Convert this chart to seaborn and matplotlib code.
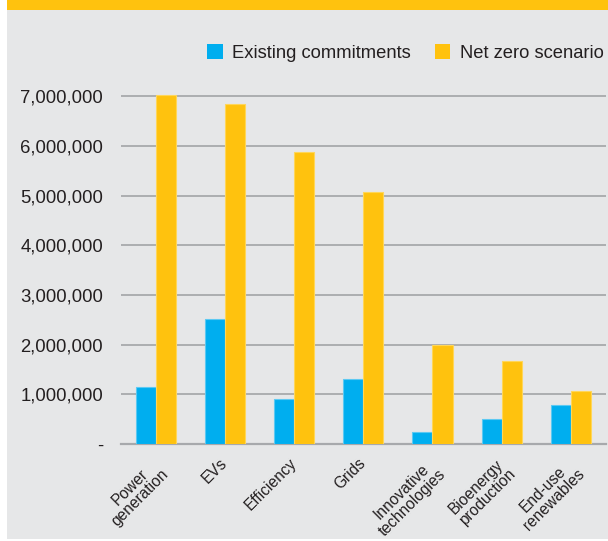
import matplotlib
matplotlib.use("Agg")
import matplotlib.pyplot as plt
from matplotlib.patches import Rectangle, Patch
from matplotlib.ticker import FuncFormatter
from matplotlib.transforms import ScaledTranslation
import pandas as pd
import seaborn as sns

# Investment by technology, two scenarios
categories = ["Power\ngeneration", "EVs", "Efficiency", "Grids",
              "Innovative\ntechnologies", "Bioenergy\nproduction", "End-use\nrenewables"]
existing_commitments = [1140000, 2520000, 900000, 1300000, 250000, 500000, 780000]
net_zero_scenario = [7020000, 6850000, 5880000, 5080000, 1990000, 1670000, 1070000]
series_names = ["Existing commitments", "Net zero scenario"]
y_ticks = [0, 1000000, 2000000, 3000000, 4000000, 5000000, 6000000, 7000000]

BLUE = "#00AEEF"
YELLOW = "#FFC20E"
PANEL = "#E6E7E8"
GRID = "#A7A9AC"
TEXT = "#231F20"

df = pd.DataFrame({
    "category": categories * 2,
    "value": existing_commitments + net_zero_scenario,
    "scenario": [series_names[0]] * len(categories) + [series_names[1]] * len(categories),
})

sns.set_theme(style="white")
plt.rcParams["font.family"] = ["Liberation Sans", "DejaVu Sans"]

W, H = 608, 541
fig = plt.figure(figsize=(W / 100, H / 100), dpi=100, facecolor="white")

# Background panel and the yellow header strip
fig.add_artist(Rectangle((7 / W, 1 - 539 / H), (W - 7) / W, (539 - 10) / H,
                         transform=fig.transFigure, facecolor=PANEL,
                         edgecolor="none", zorder=-2))
fig.add_artist(Rectangle((7 / W, 1 - 10 / H), (W - 7) / W, 10 / H,
                         transform=fig.transFigure, facecolor=YELLOW,
                         edgecolor="none", zorder=-2))

px_per_unit = 49.65 / 1e6
ymax = 7.1e6
bottom_px = 444
top_px = bottom_px - ymax * px_per_unit
ax = fig.add_axes([121 / W, 1 - bottom_px / H, (605.5 - 121) / W, (bottom_px - top_px) / H])
ax.set_facecolor("none")
ax.set_zorder(2)

sns.barplot(data=df, x="category", y="value", hue="scenario",
            palette=[BLUE, YELLOW], width=0.58, ax=ax, legend=False,
            saturation=1, zorder=3)

# thin lighter outline on each bar
for patch in ax.patches:
    fc = patch.get_facecolor()
    edge = "#5CC9F2" if fc[2] > 0.8 else "#FFD659"
    patch.set_edgecolor(edge)
    patch.set_linewidth(0.8)

ax.set_xlim(-0.5, len(categories) - 0.5)
ax.set_ylim(0, ymax)
ax.set_yticks(y_ticks)
ax.yaxis.set_major_formatter(FuncFormatter(lambda v, _: "-" if v == 0 else f"{v:,.0f}"))
ax.grid(axis="y", color=GRID, linewidth=1.3, zorder=0)
ax.grid(axis="x", visible=False)
ax.set_axisbelow(True)
for side in ["top", "right", "left"]:
    ax.spines[side].set_visible(False)
ax.spines["bottom"].set_color(GRID)
ax.spines["bottom"].set_linewidth(1.6)
ax.set_xlabel("")
ax.set_ylabel("")
ax.tick_params(axis="y", length=0, pad=13, labelsize=13.3, labelcolor=TEXT)
ax.tick_params(axis="x", length=0, pad=8.5, labelsize=11.2, labelcolor=TEXT)

ax.set_xticks(range(len(categories)))
ax.set_xticklabels(categories, rotation=45, ha="right", va="top",
                   rotation_mode="anchor", multialignment="center")
shift = ScaledTranslation(-5 / 100, 0, fig.dpi_scale_trans)
for lab in ax.get_xticklabels():
    lab.set_transform(lab.get_transform() + shift)
    lab.set_linespacing(1.0)

handles = [Patch(facecolor=BLUE, edgecolor="none"), Patch(facecolor=YELLOW, edgecolor="none")]
fig.legend(handles, series_names, loc="center right",
           bbox_to_anchor=(603.5 / W, 1 - 53 / H), ncol=2, frameon=False,
           fontsize=13.2, handlelength=0.87, handleheight=0.87,
           handletextpad=0.5, columnspacing=1.3, borderpad=0, borderaxespad=0,
           labelcolor=TEXT)

fig.savefig("out.png", dpi=100, facecolor="white")
